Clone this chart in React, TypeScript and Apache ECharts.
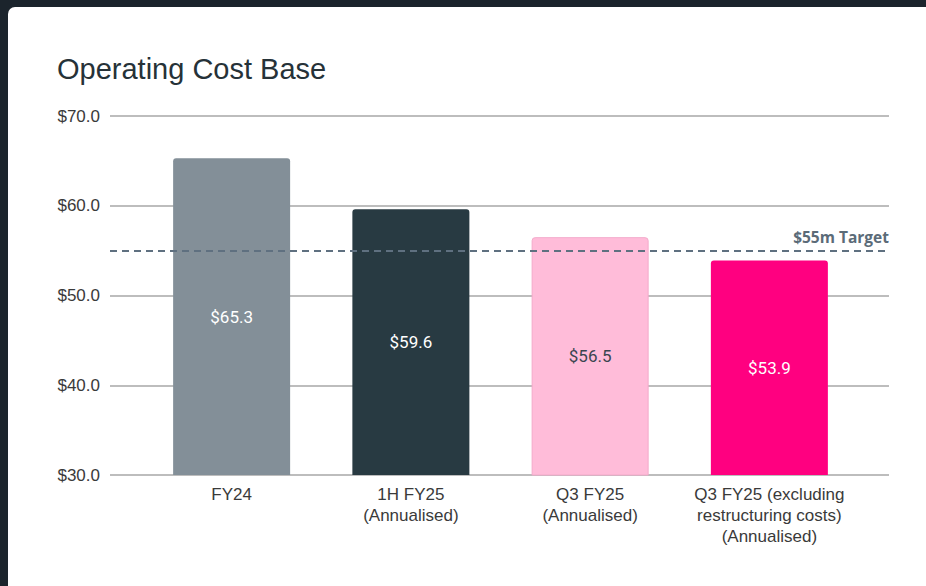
import React, { useEffect, useRef } from "react";
import * as echarts from "echarts";

const categories = [
  "FY24",
  "1H FY25\n(Annualised)",
  "Q3 FY25\n(Annualised)",
  "Q3 FY25 (excluding\nrestructuring costs)\n(Annualised)",
];
const values = [65.3, 59.6, 56.5, 53.9];
const barColors = ["#838f98", "#283a42", "#ffbcd9", "#ff0080"];
const labelColors = ["#ffffff", "#ffffff", "#3a4550", "#ffffff"];
const targetValue = 55;
const targetLabel = "$55m Target";
const yMin = 30;
const yMax = 70;
const yInterval = 10;

export default function App() {
  const ref = useRef<HTMLDivElement>(null);
  useEffect(() => {
    if (!ref.current) return;
    const chart = echarts.init(ref.current, null, { renderer: "svg" });
    chart.setOption({
      animation: false,
      title: {
        text: "Operating Cost Base",
        left: 52,
        top: 49,
        textStyle: {
          fontFamily: "Liberation Sans, Arial, sans-serif",
          fontSize: 29,
          fontWeight: "normal",
          color: "#263238",
        },
      },
      grid: [
        { left: 110, right: 37, top: 116, bottom: 111 },
        { left: 142, right: 67, top: 116, bottom: 111 },
      ],
      xAxis: [
        { type: "value", gridIndex: 0, min: 0, max: 1, show: false },
        {
          type: "category",
          gridIndex: 1,
          data: categories,
          axisLine: { show: false },
          axisTick: { show: false },
          axisLabel: {
            margin: 9,
            fontFamily: "Liberation Sans, Arial, sans-serif",
            fontSize: 17,
            lineHeight: 21,
            color: "#3a3a3a",
            interval: 0,
          },
        },
      ],
      yAxis: [
        {
          type: "value",
          gridIndex: 0,
          min: yMin,
          max: yMax,
          interval: yInterval,
          axisLine: { show: false },
          axisTick: { show: false },
          splitLine: { lineStyle: { color: "#bdbdbd", width: 2 } },
          axisLabel: {
            margin: 10,
            fontFamily: "Liberation Sans, Arial, sans-serif",
            fontSize: 17,
            color: "#3a3a3a",
            formatter: (v: number) => "$" + v.toFixed(1),
          },
        },
        {
          type: "value",
          gridIndex: 1,
          min: yMin,
          max: yMax,
          interval: yInterval,
          show: false,
          splitLine: { show: false },
        },
      ],
      series: [
        {
          type: "bar",
          xAxisIndex: 1,
          yAxisIndex: 1,
          barWidth: 117,
          z: 2,
          data: values.map((v, i) => ({
            value: v,
            itemStyle: {
              color: barColors[i],
              borderRadius: [3, 3, 0, 0],
              borderColor: i === 2 ? "#f4aacb" : barColors[i],
              borderWidth: i === 2 ? 1 : 0,
            },
            label: { color: labelColors[i] },
          })),
          label: {
            show: true,
            position: "inside",
            fontFamily: "Roboto, sans-serif",
            fontSize: 17,
            formatter: (p: any) => "$" + p.value.toFixed(1),
          },
        },
        {
          type: "line",
          xAxisIndex: 0,
          yAxisIndex: 0,
          data: [
            [0, targetValue],
            [1, targetValue],
          ],
          symbol: "none",
          lineStyle: { opacity: 0 },
          z: 5,
          markLine: {
            silent: true,
            symbol: "none",
            lineStyle: { color: "#5f7080", width: 2, type: [7, 5] },
            label: {
              show: true,
              position: "insideEndTop",
              distance: [0, 6],
              formatter: targetLabel,
              fontFamily: "Open Sans, sans-serif",
              fontWeight: "bold",
              fontSize: 15.5,
              color: "#5b6b78",
            },
            data: [{ yAxis: targetValue }],
          },
        },
      ],
    });
    return () => chart.dispose();
  }, []);
  return (
    <div style={{ position: "fixed", inset: 0, background: "#1b242c" }}>
      <div
        style={{
          position: "absolute",
          left: 8,
          top: 7,
          width: 940,
          height: 600,
          background: "#ffffff",
          borderRadius: 7,
        }}
      />
      <div
        ref={ref}
        style={{ position: "absolute", left: 0, top: 0, width: 926, height: 586 }}
      />
    </div>
  );
}
